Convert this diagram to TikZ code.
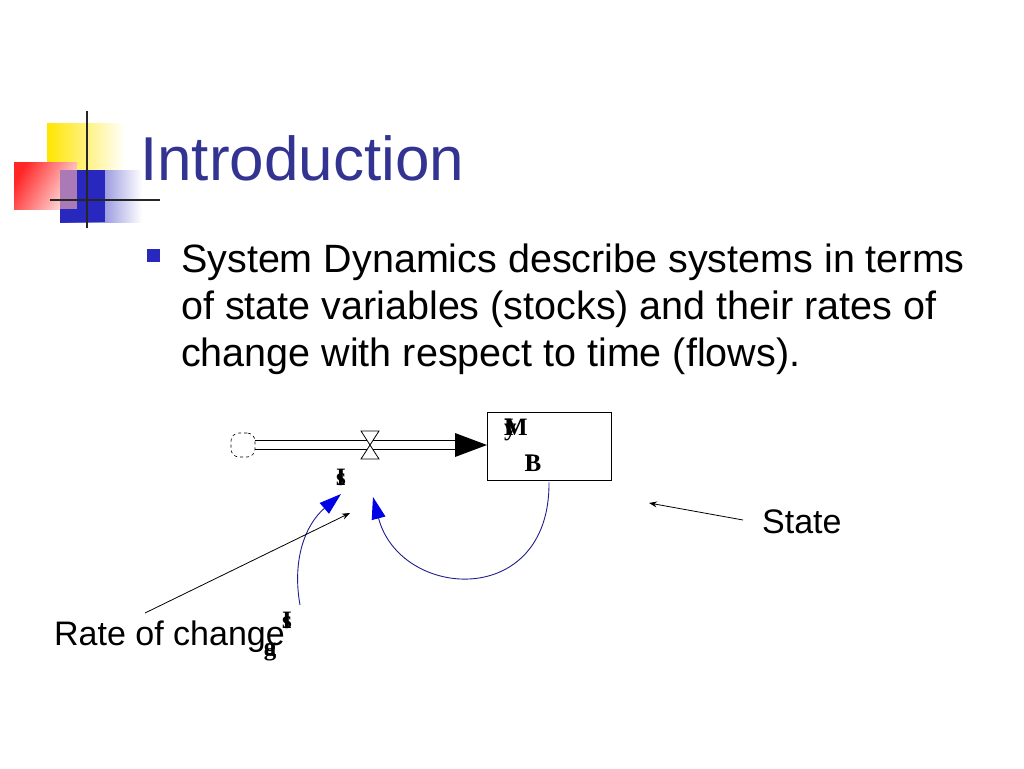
\documentclass[tikz,border=0pt]{standalone}
\usepackage{fontspec}
\setmainfont{Liberation Sans}
\newfontfamily\serifx{Liberation Serif}
\usetikzlibrary{arrows.meta,shadings,fadings}
\definecolor{titleblue}{RGB}{51,51,145}
\definecolor{logoblue}{RGB}{40,40,190}
\definecolor{arcblue}{RGB}{30,30,140}
\definecolor{tipblue}{RGB}{0,0,230}
\tikzset{
  body/.style={anchor=base west,inner sep=0,font=\fontsize{39.5}{44}\selectfont},
  side/.style={anchor=base west,inner sep=0,font=\fontsize{34}{40}\selectfont},
  glab/.style={inner sep=0,font=\serifx\bfseries\fontsize{25}{27}\selectfont},
  infl/.style={arcblue,line width=0.9pt,-{Triangle[length=22pt,width=14pt,fill=tipblue,color=tipblue]}},
  pointer/.style={black,line width=0.8pt,-{Stealth[length=8pt,width=6pt]}}
}
\begin{document}
\begin{tikzpicture}[x=1pt,y=-1pt]
\useasboundingbox (0,0) rectangle (1024,768);
% logo
\fill[left color=yellow!80!orange,right color=white] (47,123) rectangle (125,170);
\fill[left color=red!85,right color=red!10,shading angle=60] (14,162) rectangle (77,209);
\fill[left color=logoblue,right color=white] (60,170) rectangle (142,222);
\fill[logoblue] (60,170) rectangle (105,222);
\fill[red!30,opacity=0.6] (60,170) rectangle (77,209);
\draw[black!85,line width=2.5pt] (87,111) -- (87,228);
\draw[black!85,line width=2.5pt] (50,200) -- (160,200);
% title
\node[anchor=base west,inner sep=0,text=titleblue,font=\fontsize{62}{70}\selectfont] (title) at (140,180) {Introduction};
% bullet
\fill[logoblue] (147,249) rectangle (160,262);
\node[body] (l1) at (181,272) {System Dynamics describe systems in terms};
\node[body] (l2) at (181,319) {of state variables (stocks) and their rates of};
\node[body] (l3) at (181,366) {change with respect to time (flows).};
% stock flow
\node[draw,line width=0.8pt,minimum width=124pt,minimum height=68pt,inner sep=0] (box) at (549,446) {};
\node[glab] (my) at (516,430) {\rlap{I}\rlap{y}M};
\node[glab] (bb) at (533,463) {\rlap{I}B};
\node[draw,dashed,line width=0.6pt,inner sep=0,minimum size=24pt,rounded corners=8pt] (cloud) at (243,445) {};
\draw[line width=0.8pt] (cloud.east |- 0,440.5) -- (470,440.5);
\draw[line width=0.8pt] (cloud.east |- 0,449.5) -- (470,449.5);
\fill[black] (455,433) -- (487,445) -- (455,457) -- cycle;
\coordinate (v) at (370,445);
\draw[line width=0.8pt,fill=white] (361,431) -- (379,431) -- (361,459) -- (379,459) -- cycle;
\node[glab] (vl) at (341,477) {\rlap{I}s};
% labels near rate
\node[glab] (r1) at (287,620) {\rlap{I}s};
\node[glab] (r2) at (270,652) {\rlap{a}g};
% influence arrows
\coordinate (t1) at (341,494);
\coordinate (t2) at (373,497);
\draw[infl] (300,605) .. controls (292,560) and (305,525) .. (t1);
\draw[infl] (box.south) ++(0,2) .. controls (550,610) and (400,600) .. (t2);
% text pointers
\node[side] (rate) at (54,645) {Rate of change};
\node[side] (state) at (762,533) {State};
\coordinate (p1) at (350,513);
\coordinate (p2) at (649,503);
\draw[pointer] (145,613) -- (p1);
\draw[pointer] (743,520) -- (p2);
\end{tikzpicture}
\end{document}
